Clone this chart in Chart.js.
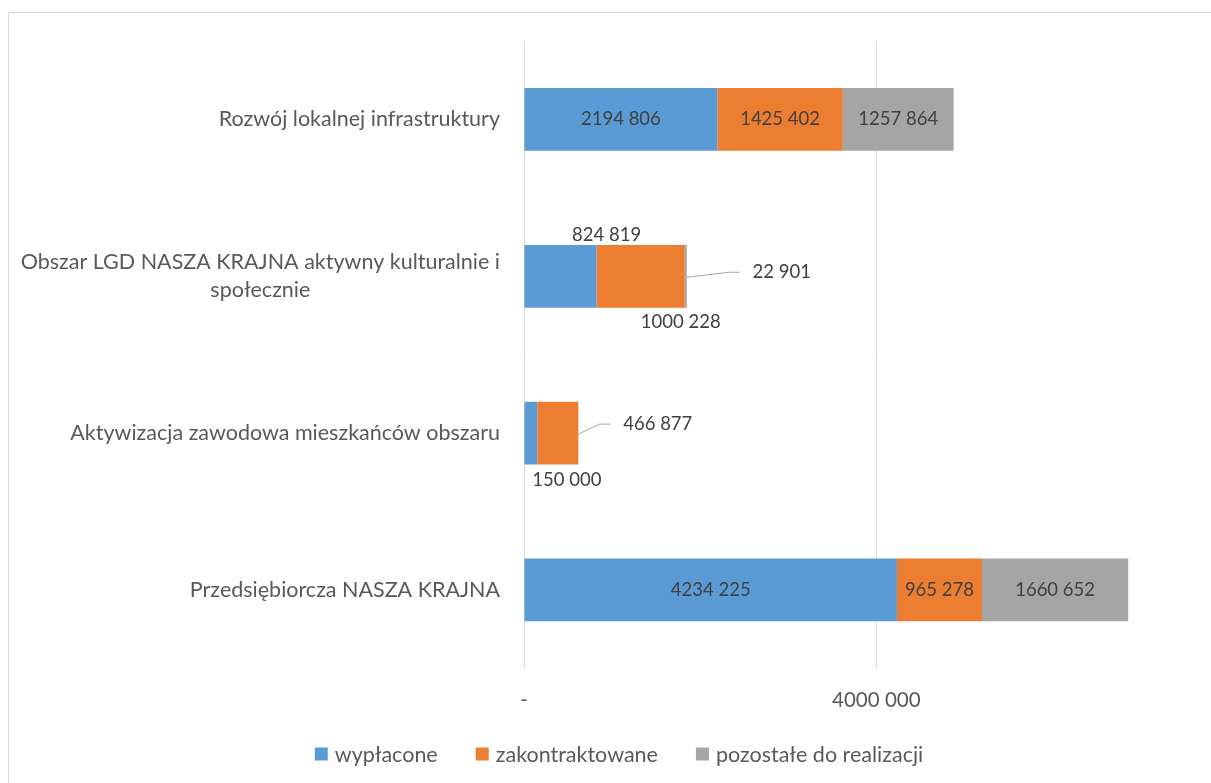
<!DOCTYPE html>
<html>
<head>
<meta charset="utf-8">
<script src="https://cdn.jsdelivr.net/npm/chart.js@4.4.1/dist/chart.umd.min.js"></script>
<style>
  body { margin: 0; background: #fff; overflow: hidden; }
  #frame { position: absolute; left: 8px; top: 12px; width: 1400px; height: 1000px;
           border-left: 1px solid #d9d9d9; border-top: 1px solid #d9d9d9; }
  #chart { position: absolute; left: 0; top: 0; }
</style>
</head>
<body>
<div id="frame"></div>
<canvas id="chart" width="1211" height="783"></canvas>
<script>
// data
const categories = [
  ['Rozwój lokalnej infrastruktury'],
  ['Obszar LGD NASZA KRAJNA aktywny kulturalnie i', 'społecznie'],
  ['Aktywizacja zawodowa mieszkańców obszaru'],
  ['Przedsiębiorcza NASZA KRAJNA']
];
const seriesNames = ['wypłacone', 'zakontraktowane', 'pozostałe do realizacji'];
const paid = [2194806, 824819, 150000, 4234225];
const contracted = [1425402, 1000228, 466877, 965278];
const remaining = [1257864, 22901, 0, 1660652];
const xTicks = [0, 4000000];

const colors = ['#5b9bd5', '#ed7d31', '#a5a5a5'];
const FONT = 'Lato';

// labels that Excel moved off the bar (offset from segment centre)
const labelNudges = {
  '0-1': {dx: 46, dy: -41},
  '1-1': {dx: 40, dy: 46},
  '2-1': {dx: 96, dy: -4, leader: true},
  '0-2': {dx: 36, dy: 47},
  '1-2': {dx: 100, dy: -9, leader: true}
};

const fmt = (v) => {
  if (v === 0) return '-';
  const s = String(v);
  return s.length > 3 ? s.slice(0, -3) + ' ' + s.slice(-3) : s;
};

const categoryLabels = {
  id: 'categoryLabels',
  afterDraw(chart) {
    const {ctx, scales: {y}} = chart;
    ctx.save();
    ctx.font = '21.5px ' + FONT;
    ctx.fillStyle = '#595959';
    ctx.textBaseline = 'middle';
    ctx.textAlign = 'center';
    const right = 500, lh = 28;
    categories.forEach((lines, i) => {
      const yc = y.getPixelForValue(i);
      const w = Math.max(...lines.map(l => ctx.measureText(l).width));
      const y0 = yc - (lines.length - 1) * lh / 2;
      lines.forEach((l, k) => ctx.fillText(l, right - w / 2, y0 + k * lh));
    });
    ctx.restore();
  }
};

const valueLabels = {
  id: 'valueLabels',
  afterDatasetsDraw(chart) {
    const ctx = chart.ctx;
    ctx.save();
    ctx.font = '18.5px ' + FONT;
    ctx.fillStyle = '#404040';
    ctx.textAlign = 'center';
    ctx.textBaseline = 'middle';
    chart.data.datasets.forEach((ds, d) => {
      chart.getDatasetMeta(d).data.forEach((bar, i) => {
        const v = ds.data[i];
        if (!v) return;
        const txt = fmt(v);
        const n = labelNudges[d + '-' + i] || {dx: 0, dy: 0};
        const cx = (bar.x + bar.base) / 2 + n.dx;
        const cy = bar.y + n.dy;
        if (n.leader) {
          const left = cx - ctx.measureText(txt).width / 2;
          ctx.beginPath();
          ctx.strokeStyle = '#a6a6a6';
          ctx.lineWidth = 1;
          ctx.moveTo(bar.x, bar.y + 1);
          ctx.lineTo(left - 24, cy);
          ctx.lineTo(left - 13, cy);
          ctx.stroke();
        }
        ctx.fillText(txt, cx, cy);
      });
    });
    ctx.restore();
  }
};

const bottomLegend = {
  id: 'bottomLegend',
  afterDraw(chart) {
    const ctx = chart.ctx;
    ctx.save();
    ctx.font = '21.5px ' + FONT;
    ctx.textBaseline = 'middle';
    ctx.textAlign = 'left';
    const box = 13, gap = 7, spacing = 38, yc = 754;
    const widths = seriesNames.map(s => box + gap + ctx.measureText(s).width);
    const total = widths.reduce((a, b) => a + b, 0) + spacing * (widths.length - 1);
    let x = 619 - total / 2;
    seriesNames.forEach((s, k) => {
      ctx.fillStyle = colors[k];
      ctx.fillRect(x, yc - box / 2, box, box);
      ctx.fillStyle = '#595959';
      ctx.fillText(s, x + box + gap, yc + 1);
      x += widths[k] + spacing;
    });
    ctx.restore();
  }
};

const chart = new Chart(document.getElementById('chart'), {
  type: 'bar',
  data: {
    labels: categories,
    datasets: [paid, contracted, remaining].map((data, k) => ({
      label: seriesNames[k],
      data: data,
      backgroundColor: colors[k],
      borderWidth: 0,
      barPercentage: 0.4,
      categoryPercentage: 1
    }))
  },
  options: {
    indexAxis: 'y',
    responsive: false,
    animation: false,
    layout: {padding: {top: 41, right: 0, bottom: 50, left: 0}},
    plugins: {legend: {display: false}, tooltip: {enabled: false}},
    scales: {
      x: {
        stacked: true,
        min: 0,
        max: 7800000,
        afterBuildTicks: (axis) => { axis.ticks = xTicks.map(v => ({value: v})); },
        grid: {color: '#d9d9d9', lineWidth: 1, drawTicks: false},
        border: {display: false},
        ticks: {
          autoSkip: false,
          maxRotation: 0,
          padding: 20,
          color: '#595959',
          font: {family: FONT, size: 20.5},
          callback: (v) => fmt(v)
        }
      },
      y: {
        stacked: true,
        grid: {display: false},
        border: {display: false},
        ticks: {display: false},
        afterFit: (scale) => { scale.width = 524; }
      }
    }
  },
  plugins: [categoryLabels, valueLabels, bottomLegend]
});
</script>
</body>
</html>
